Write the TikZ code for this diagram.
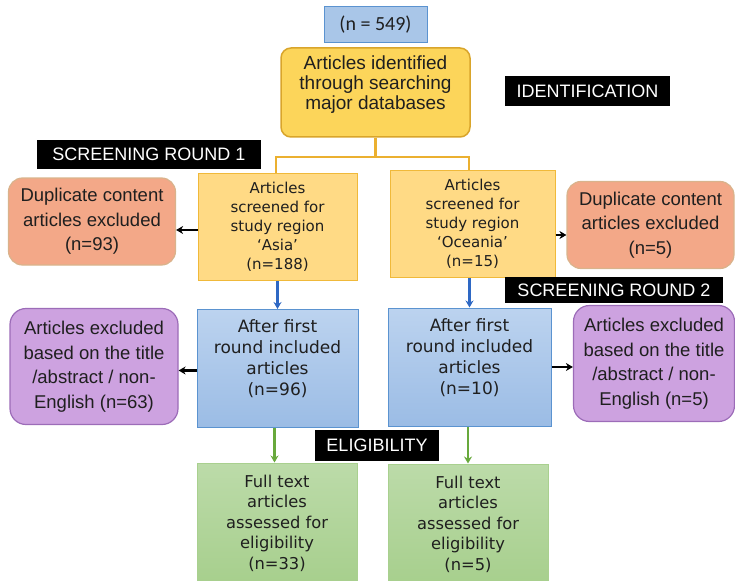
\documentclass[tikz,border=0pt]{standalone}
\usepackage{fontspec}
\setmainfont{Liberation Sans}
\newfontfamily\verdfont{DejaVu Sans}
\newfontfamily\calibfont{Carlito}
\usetikzlibrary{arrows.meta}

\definecolor{bluefill}{HTML}{A9C6E8}
\definecolor{bluetop}{HTML}{BCD3EF}
\definecolor{bluebot}{HTML}{9BBCE5}
\definecolor{blueedge}{HTML}{5B93D0}
\definecolor{goldfill}{HTML}{FCD55A}
\definecolor{goldedge}{HTML}{D9A52B}
\definecolor{paleyellow}{HTML}{FFDA85}
\definecolor{paleedge}{HTML}{F0B93A}
\definecolor{salmon}{HTML}{F3A888}
\definecolor{salmonedge}{HTML}{D9B38C}
\definecolor{lilac}{HTML}{CDA2E0}
\definecolor{lilacedge}{HTML}{9C6CB8}
\definecolor{greentop}{HTML}{BCDBA9}
\definecolor{greenbot}{HTML}{A7CF8D}
\definecolor{greenedge}{HTML}{A9D08F}
\definecolor{linkgold}{HTML}{EBB030}
\definecolor{linkblue}{HTML}{2E68C4}
\definecolor{linkgreen}{HTML}{68A93C}

\begin{document}
\begin{tikzpicture}[x=1pt,y=-1pt,line width=1pt,>=Stealth,
  every node/.style={inner sep=0pt,align=center,text=black!88},
  countbox/.style={draw=blueedge,fill=bluefill,minimum width=103,minimum height=36,
    font=\calibfont\fontsize{20}{24}\selectfont},
  srcbox/.style={draw=goldedge,fill=goldfill,rounded corners=10,line width=1.5pt,
    minimum width=189,minimum height=89,font=\fontsize{19}{20}\selectfont},
  screenbox/.style={draw=paleedge,fill=paleyellow,minimum height=107,
    font=\verdfont\fontsize{15}{19}\selectfont},
  dupbox/.style={draw=salmonedge,fill=salmon,rounded corners=14,line width=1.2pt,
    minimum width=167,minimum height=87,font=\fontsize{18.5}{24.5}\selectfont},
  roundbox/.style={draw=blueedge,top color=bluetop,bottom color=bluebot,
    minimum width=161,minimum height=118,font=\verdfont\fontsize{17}{21}\selectfont},
  exclbox/.style={draw=lilacedge,fill=lilac,rounded corners=16,line width=1.2pt,
    minimum width=168,minimum height=116,font=\fontsize{18.5}{24.5}\selectfont},
  fullbox/.style={draw=greenedge,top color=greentop,bottom color=greenbot,
    minimum width=160,minimum height=120,font=\verdfont\fontsize{16.3}{20.5}\selectfont},
  stage/.style={fill=black,text=white,font=\fontsize{18}{20}\selectfont},
  split/.style={draw=linkgold,line width=2.6pt},
  arr/.style={->,line width=2.6pt,>={Stealth[length=7pt,width=8pt]}}]
\useasboundingbox (0,0) rectangle (735,580);
% ---------- identification ----------
\node[countbox] (n549) at (375.5,25) {(n = 549)};
\node[srcbox] (src) at (375.5,92.5) {Articles identified\\through searching\\major databases\\\mbox{}};
\node[stage,minimum width=165,minimum height=30] (ident) at (587.5,91) {IDENTIFICATION};
% ---------- screening round 1 ----------
\node[stage,minimum width=224,minimum height=29] (round1) at (149,154.5) {SCREENING ROUND 1};
\node[screenbox,minimum width=159] (asia) at (277.5,227) {Articles\\screened for\\study region\\‘Asia’\\(n=188)};
\node[screenbox,minimum width=165] (ocea) at (472.5,224) {Articles\\screened for\\study region\\‘Oceania’\\(n=15)};
\node[dupbox] (dupA) at (92,221.5) {Duplicate content\\articles excluded\\(n=93)};
\node[dupbox] (dupO) at (650.5,225) {Duplicate content\\articles excluded\\(n=5)};
% Verzweigung der Quelle
\coordinate (fork) at (375.5,157);
\draw[split] (src.south) -- (fork);
\draw[split] (fork) -| ([xshift=-1.5]asia.north);
\draw[split] (fork) -| ([xshift=-3.5]ocea.north);
\draw[arr] ([yshift=-3]asia.west) -- ([yshift=-3]asia.west -| dupA.east);
\draw[arr] ([yshift=-11]ocea.east) -- ([yshift=-11]ocea.east -| dupO.west);
% ---------- screening round 2 ----------
\node[stage,minimum width=218,minimum height=26] (round2) at (614,290) {SCREENING ROUND 2};
\node[roundbox] (blueA) at (277.5,368.5) {After first\\round included\\articles\\(n=96)\\\mbox{}};
\node[roundbox,minimum width=163] (blueO) at (469.5,367) {After first\\round included\\articles\\(n=10)\\\mbox{}};
\node[exclbox] (exclA) at (94,366.5) {Articles excluded\\based on the title\\/abstract / non-\\English (n=63)};
\node[exclbox,minimum width=161] (exclO) at (654,363.5) {Articles excluded\\based on the title\\/abstract / non-\\English (n=5)};
\draw[arr,linkblue] (asia.south -| blueA.north) -- (blueA.north);
\draw[arr,linkblue] (ocea.south -| blueO.north) -- (blueO.north);
\draw[arr] ([yshift=-2]blueA.west) -- ([yshift=-2]blueA.west -| exclA.east);
\draw[arr] (blueO.east) -- (blueO.east -| exclO.west);
% ---------- eligibility ----------
\node[stage,minimum width=124,minimum height=31] (elig) at (377,445.5) {ELIGIBILITY};
\node[fullbox] (fullA) at (277,523) {Full text\\articles\\assessed for\\eligibility\\(n=33)};
\node[fullbox] (fullO) at (468,524) {Full text\\articles\\assessed for\\eligibility\\(n=5)};
\draw[arr,linkgreen] ([xshift=-3]blueA.south) -- ([xshift=-3]blueA.south |- fullA.north);
\draw[arr,linkgreen] ([xshift=-1.5]blueO.south) -- ([xshift=-1.5]blueO.south |- fullO.north);
\end{tikzpicture}
\end{document}
